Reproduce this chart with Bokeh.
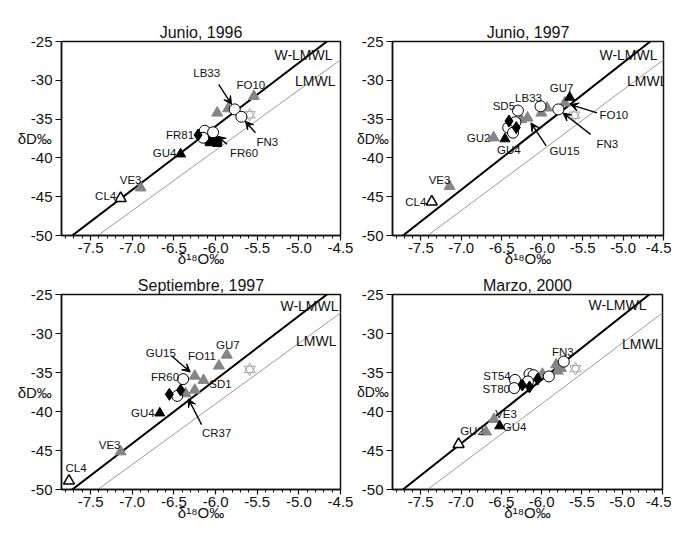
import math
from bokeh.plotting import figure
from bokeh.layouts import column, row
from bokeh.models import (ColumnDataSource, FixedTicker, PrintfTickFormatter, Label,
                          Arrow, VeeHead, Range1d)
from bokeh.embed import file_html
from bokeh.resources import INLINE
from bokeh.core.properties import value

# ---------------- data ----------------
X_RANGE = (-7.85, -4.5)
Y_RANGE = (-50.0, -25.0)
X_TICKS = [-7.5, -7.0, -6.5, -6.0, -5.5, -5.0, -4.5]
Y_TICKS = [-50, -45, -40, -35, -30, -25]
W_LMWL = (8.18, 13.15)   # slope, intercept
LMWL = (7.77, 7.6)

TITLES = ["Junio, 1996", "Junio, 1997", "Septiembre, 1997", "Marzo, 2000"]

JUN96_D18O = [-7.14, -6.90, -6.42, -6.21, -6.13, -6.03, -6.15, -6.07, -5.98, -5.98, -5.85, -5.54, -5.77, -5.69, -5.59]
JUN96_DD   = [-45.2, -43.85, -39.5, -37.05, -36.5, -36.7, -37.4, -37.85, -37.95, -34.2, -33.65, -32.05, -33.75, -34.7, -34.45]
JUN96_KIND = ["open_tri", "gray_tri", "black_tri", "diamond", "open_circle", "open_circle", "open_circle",
              "square", "square", "gray_tri", "gray_tri", "gray_tri", "open_circle", "open_circle", "star"]
JUN96_SITE = ["CL4", "VE3", "GU4", "FR81", "", "FR60", "", "", "", "", "", "FO10", "LB33", "FN3", ""]

JUN97_D18O = [-7.365, -7.145, -6.60, -6.46, -6.41, -6.32, -6.42, -6.36, -6.33, -6.30, -6.26, -6.18, -6.02, -5.94, -6.01, -5.66, -5.72, -5.80, -5.60]
JUN97_DD   = [-45.65, -43.65, -37.4, -37.55, -35.25, -36.1, -36.1, -36.75, -35.4, -33.9, -35.05, -34.85, -33.35, -33.55, -34.2, -32.2, -32.9, -33.75, -34.5]
JUN97_KIND = ["open_tri", "gray_tri", "gray_tri", "black_tri", "diamond", "diamond", "open_circle", "open_circle",
              "open_circle", "open_circle", "gray_tri", "gray_tri", "open_circle", "gray_tri", "gray_tri",
              "black_tri", "gray_tri", "open_circle", "star"]
JUN97_SITE = ["CL4", "VE3", "GU2", "GU4", "", "", "", "", "", "SD5", "", "GU15", "LB33", "", "", "GU7", "FO10", "FN3", ""]

SEP97_D18O = [-7.76, -7.14, -6.67, -6.555, -6.42, -6.46, -6.39, -6.36, -6.25, -6.25, -6.145, -5.96, -5.865, -5.59]
SEP97_DD   = [-48.9, -45.15, -40.2, -37.8, -37.25, -38.0, -35.85, -37.7, -37.25, -35.45, -36.0, -34.15, -32.75, -34.6]
SEP97_KIND = ["open_tri", "gray_tri", "black_tri", "diamond", "diamond", "open_circle", "open_circle", "gray_tri",
              "gray_tri", "gray_tri", "gray_tri", "gray_tri", "gray_tri", "star"]
SEP97_SITE = ["CL4", "VE3", "GU4", "", "", "", "FR60", "CR37", "", "GU15", "SD1", "FO11", "GU7", ""]

MAR00_D18O = [-7.03, -6.69, -6.59, -6.52, -6.33, -6.34, -6.15, -6.10, -6.17, -5.91, -5.725, -6.24, -6.15, -6.05, -5.99, -5.82, -5.80, -5.76, -5.58]
MAR00_DD   = [-44.2, -42.6, -41.0, -41.85, -35.95, -37.0, -35.2, -35.35, -36.15, -35.5, -33.6, -36.6, -36.85, -35.85, -35.2, -34.0, -34.8, -34.45, -34.5]
MAR00_KIND = ["open_tri", "gray_tri", "gray_tri", "black_tri", "open_circle", "open_circle", "open_circle", "open_circle",
              "open_circle", "open_circle", "open_circle", "diamond", "diamond", "diamond", "gray_tri", "gray_tri",
              "gray_tri", "gray_tri", "star"]
MAR00_SITE = ["", "GU2", "VE3", "GU4", "ST54", "ST80", "", "", "", "", "FN3", "", "", "", "", "", "", "", ""]

# ---------------- layout (pixel offsets of labels / arrow tails) ----------------
JUN96_LAB = {"CL4": (-15, -2, None), "VE3": (-10, -8, None), "GU4": (-16, -1, None), "FR81": (-18, 0, None),
             "FR60": (31, 21, (14, 12)), "FN3": (26, 25, (14, 16)), "LB33": (-28, -36, (-16, -25)),
             "FO10": (-3, -11, None)}
JUN97_LAB = {"CL4": (-16, 0, None), "VE3": (-10, -6, None), "GU2": (-15, 0, None), "GU4": (4, 11, None),
             "SD5": (-14, -5, None), "LB33": (-12, -8, None), "GU7": (-8, -9, None),
             "FO10": (49, 12, (33, 10)), "FN3": (49, 35, (33, 25)), "GU15": (37, 33, (19, 28))}
SEP97_LAB = {"CL4": (7, -13, None), "VE3": (-11, -7, None), "GU4": (-17, 0, None), "FR60": (-18, -2, None),
             "GU15": (-34, -23, (-23, -20)), "FO11": (-17, -10, None), "GU7": (1, -10, None),
             "SD1": (17, 4, None), "CR37": (31, 39, (16, 31))}
MAR00_LAB = {"FN3": (-1, -10, None), "ST54": (-18, -4, None), "ST80": (-18, 1, None), "VE3": (12, -5, None),
             "GU4": (15, 1, None), "GU2": (-14, -1, None)}

FONT = "Liberation Sans"
GRAY = "#858585"
INK = "#111111"

STYLES = {
    "gray_tri": dict(marker="triangle", size=11, fill_color=GRAY, line_color=GRAY, line_width=1),
    "black_tri": dict(marker="triangle", size=10, fill_color="black", line_color="black", line_width=1),
    "open_tri": dict(marker="triangle", size=11, fill_color="white", line_color="black", line_width=1.5),
    "square": dict(marker="square", size=9, fill_color="black", line_color="black", line_width=1),
    "open_circle": dict(marker="circle", size=11, fill_color="white", line_color="black", line_width=1),
    "diamond": dict(marker="diamond", size=12, fill_color="black", line_color="black", line_width=1),
}
ORDER = ["star", "gray_tri", "black_tri", "open_tri", "square", "open_circle", "diamond"]


def make_panel(title, xs, ys, kinds, sites, lab, wl_pos, lm_pos, width, height, bl, br, bt, bb,
               ylab_size, ylab_standoff):
    p = figure(width=width, height=height, x_range=Range1d(*X_RANGE), y_range=Range1d(*Y_RANGE),
               output_backend="svg", toolbar_location=None,
               min_border_left=bl, min_border_right=br, min_border_top=bt, min_border_bottom=bb)
    fw = width - bl - br
    fh = height - bt - bb
    sx = fw / (X_RANGE[1] - X_RANGE[0])
    sy = fh / (Y_RANGE[1] - Y_RANGE[0])

    p.title.text = title
    p.title.align = "center"
    p.title.text_font = FONT
    p.title.text_font_size = "16px"
    p.title.text_font_style = "normal"
    p.title.text_color = INK
    p.title.standoff = 2
    p.xgrid.visible = False
    p.ygrid.visible = False
    p.outline_line_color = INK
    p.outline_line_width = 1.5
    p.background_fill_color = "white"
    p.border_fill_color = "white"

    minor = [round(X_RANGE[0] + 0.05 + 0.1 * k, 1) for k in range(34)]
    p.xaxis.ticker = FixedTicker(ticks=X_TICKS, minor_ticks=minor)
    p.xaxis.formatter = PrintfTickFormatter(format="%.1f")
    p.yaxis.ticker = FixedTicker(ticks=Y_TICKS)
    p.yaxis.formatter = PrintfTickFormatter(format="%d")
    for ax in (p.xaxis[0], p.yaxis[0]):
        ax.axis_line_color = INK
        ax.axis_line_width = 1.5
        ax.major_tick_line_color = INK
        ax.major_tick_line_width = 1.2
        ax.minor_tick_line_color = INK
        ax.major_tick_in = 0
        ax.minor_tick_in = 0
        ax.major_label_text_font = FONT
        ax.major_label_text_font_size = "15px"
        ax.major_label_text_color = INK
        ax.axis_label_text_font = FONT
        ax.axis_label_text_font_style = "normal"
        ax.axis_label_text_color = INK
    p.xaxis.major_tick_out = 5
    p.xaxis.minor_tick_out = 3
    p.xaxis.major_label_standoff = 2
    p.xaxis.axis_label = "δ¹⁸O‰"
    p.xaxis.axis_label_text_font_size = "15px"
    p.xaxis.axis_label_standoff = -6
    p.yaxis.major_tick_out = 6
    p.yaxis.minor_tick_out = 0
    p.yaxis.major_label_standoff = 3
    p.yaxis.axis_label = "δD‰"
    p.yaxis.axis_label_orientation = "horizontal"
    p.yaxis.axis_label_text_font_size = ylab_size
    p.yaxis.axis_label_standoff = ylab_standoff

    # meteoric water lines
    lx = [X_RANGE[0] - 0.5, X_RANGE[1] + 0.5]
    p.line(lx, [LMWL[0] * v + LMWL[1] for v in lx], line_color="#9a9a9a", line_width=1)
    p.line(lx, [W_LMWL[0] * v + W_LMWL[1] for v in lx], line_color="black", line_width=2)

    # markers
    for k in ORDER:
        px = [x for x, kk in zip(xs, kinds) if kk == k]
        py = [y for y, kk in zip(ys, kinds) if kk == k]
        if not px:
            continue
        if k == "star":
            for m in ("triangle", "inverted_triangle"):
                p.scatter(px, py, marker=m, size=11, fill_color=None, line_color="#a8a8a8", line_width=1)
        else:
            p.scatter(px, py, **STYLES[k])

    # site labels and arrows
    tx, ty, tt, ox, oy = [], [], [], [], []
    for x, y, s in zip(xs, ys, sites):
        if not s:
            continue
        dx, dy, arr = lab[s]
        tx.append(x); ty.append(y); tt.append(s); ox.append(dx); oy.append(dy)
        if arr is not None:
            ax_, ay_ = arr
            d = math.hypot(ax_, ay_)
            gap = 6.0
            ex, ey = ax_ / d * gap, ay_ / d * gap
            p.add_layout(Arrow(x_start=x + ax_ / sx, y_start=y - ay_ / sy,
                               x_end=x + ex / sx, y_end=y - ey / sy,
                               line_color="black", line_width=1.4,
                               end=VeeHead(size=8, fill_color="black", line_color="black", line_width=1)))
    src = ColumnDataSource(dict(x=tx, y=ty, t=tt, ox=ox, oy=oy))
    p.text(x="x", y="y", text="t", x_offset="ox", y_offset="oy", source=src,
           text_align="center", text_baseline="middle", text_font=value(FONT),
           text_font_size="11.5px", text_color=INK)

    # line labels (inside the frame)
    p.add_layout(Label(x=fw - wl_pos[0], y=fh - wl_pos[1], x_units="screen", y_units="screen",
                       text="W-LMWL", text_align="right", text_baseline="middle",
                       text_font=FONT, text_font_size="14px", text_color=INK))
    p.add_layout(Label(x=fw - lm_pos[0], y=fh - lm_pos[1], x_units="screen", y_units="screen",
                       text="LMWL", text_align="right", text_baseline="middle",
                       text_font=FONT, text_font_size="14px", text_color=INK))
    return p


p1 = make_panel(TITLES[0], JUN96_D18O, JUN96_DD, JUN96_KIND, JUN96_SITE, JUN96_LAB, (8, 13), (5, 39),
                353, 272, 61, 13, 41, 37, "15px", -24)
p2 = make_panel(TITLES[1], JUN97_D18O, JUN97_DD, JUN97_KIND, JUN97_SITE, JUN97_LAB, (12, 13), (2, 39),
                318, 272, 33, 8, 41, 37, "14px", -30)
p3 = make_panel(TITLES[2], SEP97_D18O, SEP97_DD, SEP97_KIND, SEP97_SITE, SEP97_LAB, (2, 11), (4, 46),
                353, 252, 61, 13, 22, 35, "15px", -24)
p4 = make_panel(TITLES[3], MAR00_D18O, MAR00_DD, MAR00_KIND, MAR00_SITE, MAR00_LAB, (22, 10), (6, 49),
                318, 252, 33, 9, 22, 35, "14px", -30)

layout = column(row(p1, p2), row(p3, p4))

open("out.html", "w").write(file_html(layout, INLINE))
